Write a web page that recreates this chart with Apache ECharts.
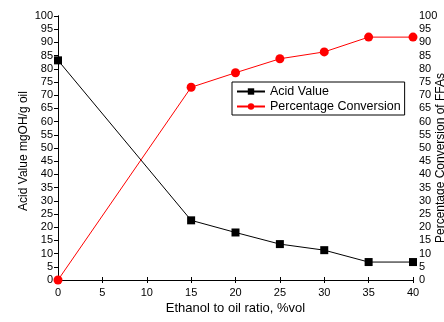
<!DOCTYPE html>
<html><head><meta charset="utf-8">
<script src="https://cdn.jsdelivr.net/npm/echarts@6/dist/echarts.min.js"></script>
<style>html,body{margin:0;padding:0;background:#fff}#c{width:444px;height:322px}</style>
</head><body><div id="c"></div>
<script>
const ratios = [0, 15, 20, 25, 30, 35, 40];
const acidValue = [83.2, 22.6, 18.0, 13.6, 11.3, 6.8, 6.8];
const conversion = [0, 73.0, 78.5, 83.8, 86.4, 92.0, 92.0];
const font = 'Liberation Sans, Arial, sans-serif';
const chart = echarts.init(document.getElementById('c'), null, {renderer: 'canvas'});
const axisLabel = {fontFamily: font, fontSize: 11, color: '#000'};
chart.setOption({
  animation: false,
  backgroundColor: '#fff',
  grid: {left: 58, right: 31, top: 16, bottom: 42, show: false, containLabel: false, outerBoundsMode: 'none'},
  legend: {
    orient: 'vertical', left: 232, top: 82, itemGap: 2, padding: [3, 4, 2, 4],
    borderColor: '#000', borderWidth: 1, itemWidth: 28, itemHeight: 8,
    textStyle: {fontFamily: font, fontSize: 12.5, color: '#000'},
    data: ['Acid Value', 'Percentage Conversion']
  },
  xAxis: [{
    type: 'value', min: 0, max: 40, interval: 5,
    name: 'Ethanol to oil ratio, %vol', nameLocation: 'middle', nameGap: 22, nameMoveOverlap: false,
    nameTextStyle: {fontFamily: font, fontSize: 13, color: '#000'},
    axisLine: {lineStyle: {color: '#000', width: 1}},
    axisTick: {inside: true, length: 3, lineStyle: {color: '#000'}},
    axisLabel: Object.assign({margin: 7}, axisLabel),
    splitLine: {show: false}
  }, {
    type: 'value', min: 0, max: 40, interval: 5, position: 'top',
    axisLine: {show: true, lineStyle: {color: '#000', width: 1}},
    axisTick: {show: true, inside: true, length: 3, lineStyle: {color: '#000'}},
    axisLabel: {show: false}, splitLine: {show: false}
  }],
  yAxis: [{
    type: 'value', min: 0, max: 100, interval: 5,
    name: 'Acid Value mgOH/g oil', nameLocation: 'middle', nameGap: 28, nameRotate: 90, nameMoveOverlap: false,
    nameTextStyle: {fontFamily: font, fontSize: 12, color: '#000', padding: [0, 6, 0, 0]},
    axisLine: {show: true, lineStyle: {color: '#000', width: 1}},
    axisTick: {show: true, inside: false, length: 3, lineStyle: {color: '#000'}},
    axisLabel: Object.assign({margin: 5}, axisLabel),
    splitLine: {show: false}
  }, {
    type: 'value', min: 0, max: 100, interval: 5, position: 'right',
    name: 'Percentage Conversion of FFAs', nameLocation: 'middle', nameGap: 22, nameRotate: 90, nameMoveOverlap: false,
    nameTextStyle: {fontFamily: font, fontSize: 12, color: '#000', padding: [0, 20, 0, 0]},
    axisLine: {show: true, lineStyle: {color: '#000', width: 1}},
    axisTick: {show: true, inside: true, length: 4, lineStyle: {color: '#000'}},
    axisLabel: Object.assign({margin: 6}, axisLabel),
    splitLine: {show: false}
  }],
  series: [{
    name: 'Acid Value', type: 'line', xAxisIndex: 0, yAxisIndex: 0,
    data: ratios.map((x, i) => [x, acidValue[i]]),
    symbol: 'rect', symbolSize: 8,
    itemStyle: {color: '#000'}, lineStyle: {color: '#000', width: 1}
  }, {
    name: 'Percentage Conversion', type: 'line', xAxisIndex: 0, yAxisIndex: 1,
    data: ratios.map((x, i) => [x, conversion[i]]),
    symbol: 'circle', symbolSize: 9,
    itemStyle: {color: '#ff0000'}, lineStyle: {color: '#ff0000', width: 1}
  }]
});
</script></body></html>
